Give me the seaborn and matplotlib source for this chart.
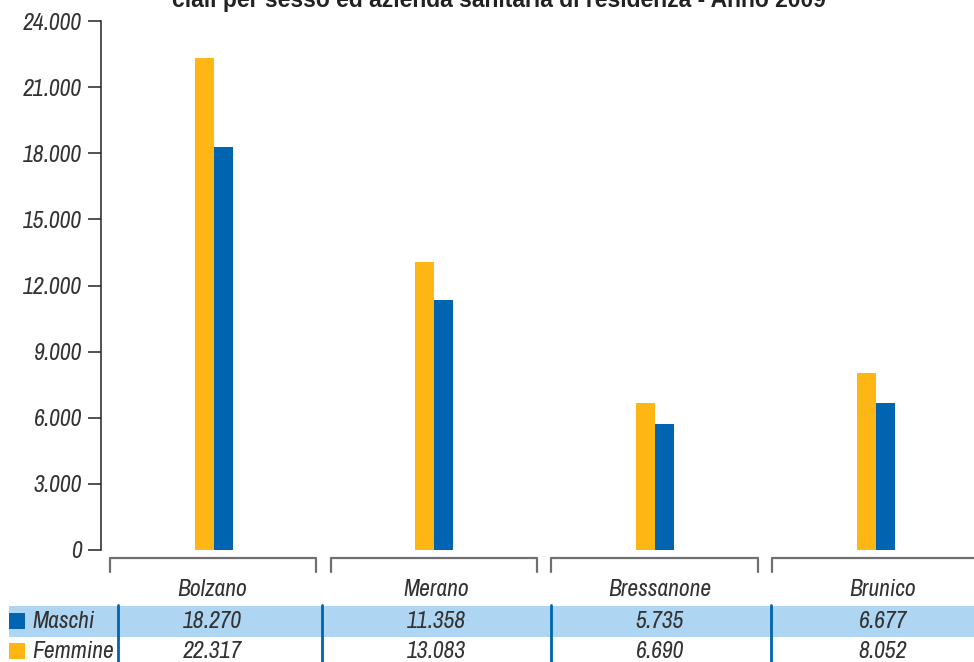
import matplotlib
matplotlib.use("Agg")
import matplotlib.pyplot as plt
import matplotlib.ticker as mticker
from matplotlib import font_manager
from matplotlib.lines import Line2D
from matplotlib.patches import Rectangle
import seaborn as sns
import pandas as pd

# ---- data ----
categories = ["Bolzano", "Merano", "Bressanone", "Brunico"]
maschi = [18270, 11358, 5735, 6677]
femmine = [22317, 13083, 6690, 8052]
series_names = ["Maschi", "Femmine"]
title = "ciali per sesso ed azienda sanitaria di residenza - Anno 2009"
y_ticks = [0, 3000, 6000, 9000, 12000, 15000, 18000, 21000, 24000]

def fmt(v):
    return f"{v:,.0f}".replace(",", ".")

BLUE = "#0064B0"
ORANGE = "#FDB614"
BAND = "#AED5F1"
TXT = "#333333"

names = sorted({f.name for f in font_manager.fontManager.ttflist})
narrow = [n for n in names if "Narrow" in n or "Condensed" in n]
main_font = narrow[0] if narrow else "Liberation Sans"
FONT = [main_font, "DejaVu Sans"]

sns.set_style("white")
plt.rcParams["font.family"] = FONT

W, H = 974, 662
fig = plt.figure(figsize=(W / 100, H / 100), dpi=100)

def fx(px):
    return px / W

def fy(py):
    return 1 - py / H

ax_left, ax_right = 101, 101 + 4 * 220.7
ax = fig.add_axes([fx(ax_left), fy(550), (ax_right - ax_left) / W, (550 - 21) / H])

df = pd.DataFrame({
    "Azienda": categories * 2,
    "Valore": femmine + maschi,
    "Sesso": ["Femmine"] * len(categories) + ["Maschi"] * len(categories),
})
sns.barplot(data=df, x="Azienda", y="Valore", hue="Sesso",
            hue_order=["Femmine", "Maschi"],
            palette={"Femmine": ORANGE, "Maschi": BLUE},
            width=0.172, dodge=True, legend=False, ax=ax,
            saturation=1, linewidth=0)

FS = 17 if narrow else 14

ax.set_xlim(-0.51, 3.49)
ax.set_ylim(0, 24000)
ax.set_yticks(y_ticks)
ax.yaxis.set_major_formatter(mticker.FuncFormatter(lambda v, p: fmt(v)))
for lab in ax.get_yticklabels():
    lab.set_fontstyle("italic")
    lab.set_fontsize(FS)
    lab.set_color(TXT)
ax.tick_params(axis="y", direction="out", length=9.5, width=1.1, color="#222222", pad=4, left=True)
ax.tick_params(axis="x", bottom=False, labelbottom=False)
ax.set_xlabel("")
ax.set_ylabel("")
for s in ["top", "right", "bottom"]:
    ax.spines[s].set_visible(False)
ax.spines["left"].set_color("#222222")
ax.spines["left"].set_linewidth(1.1)
ax.patch.set_alpha(0)

# title (cropped at the top of the figure, as in the reference)
fig.text(fx(499), fy(1), title, ha="center", va="center", fontsize=16.5,
         fontweight="bold", color="#222222", family=["Liberation Sans", "DejaVu Sans"])

# brackets under categories
brackets = [(110, 316), (331, 537), (551, 758), (772, 990)]
for x0, x1 in brackets:
    fig.add_artist(Line2D([fx(x0), fx(x0), fx(x1), fx(x1)],
                          [fy(572), fy(558), fy(558), fy(572)],
                          color="#6f6f6f", lw=1.6, transform=fig.transFigure))

# table
fig.add_artist(Rectangle((fx(9), fy(637)), fx(974) - fx(9), fy(606) - fy(637),
                         facecolor=BAND, edgecolor="none", transform=fig.transFigure))
for xs in [118, 322, 551, 771]:
    fig.add_artist(Line2D([fx(xs), fx(xs)], [fy(605), fy(662)], color=BLUE, lw=2,
                          transform=fig.transFigure))

col_x = [212, 436, 660, 883]
for cx, cat in zip(col_x, categories):
    fig.text(fx(cx), fy(590), cat, ha="center", va="center", fontsize=FS,
             style="italic", color=TXT)
rows = [(maschi, 621, BLUE, 613), (femmine, 651, ORANGE, 643)]
for (vals, ry, col, sq_top), name in zip(rows, series_names):
    fig.add_artist(Rectangle((fx(9), fy(sq_top + 16)), fx(16), fy(sq_top) - fy(sq_top + 16),
                             facecolor=col, edgecolor="none", transform=fig.transFigure))
    fig.text(fx(32), fy(ry), name, ha="left", va="center", fontsize=FS,
             style="italic", color=TXT)
    for cx, v in zip(col_x, vals):
        fig.text(fx(cx), fy(ry), fmt(v), ha="center", va="center", fontsize=FS,
                 style="italic", color=TXT)

fig.savefig("out.png", dpi=100)
